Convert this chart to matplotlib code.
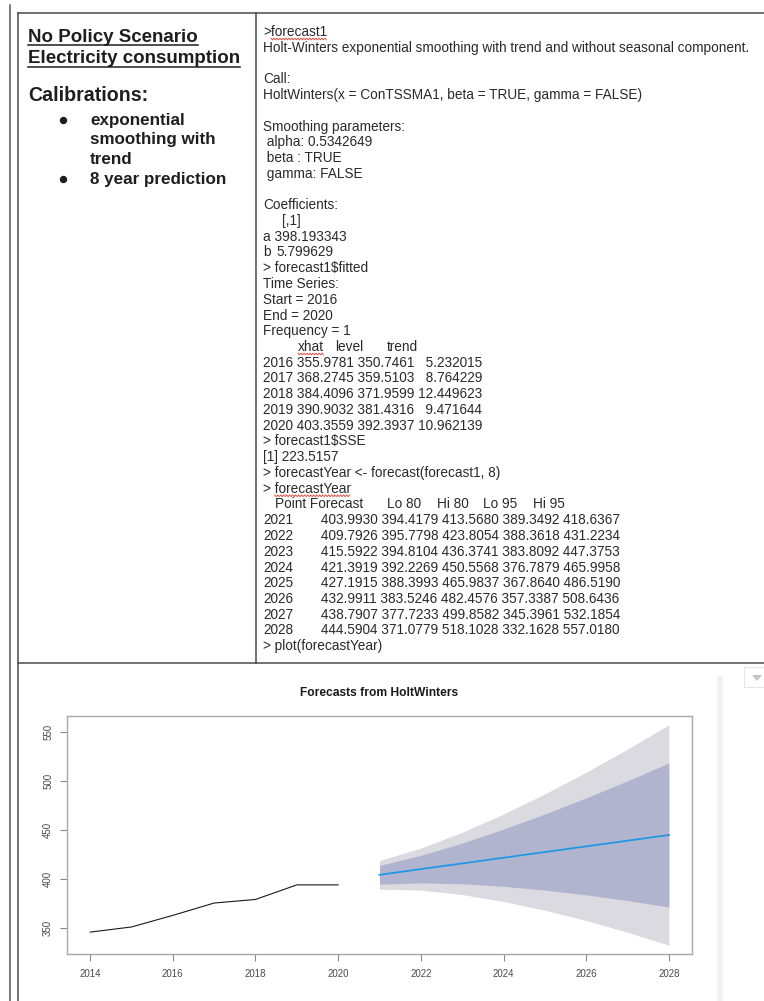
import matplotlib
matplotlib.use('Agg')
import matplotlib.pyplot as plt
from matplotlib.lines import Line2D
from matplotlib.patches import Rectangle, Polygon
import numpy as np

# ---------------- data ----------------
hist_years = [2014, 2015, 2016, 2017, 2018, 2019, 2020]
hist_values = [345.51, 350.75, 362.59, 375.17, 378.83, 393.69, 393.69]

fc_years = [2021, 2022, 2023, 2024, 2025, 2026, 2027, 2028]
point_fc = [403.9930, 409.7926, 415.5922, 421.3919, 427.1915, 432.9911, 438.7907, 444.5904]
lo80 = [394.4179, 395.7798, 394.8104, 392.2269, 388.3993, 383.5246, 377.7233, 371.0779]
hi80 = [413.5680, 423.8054, 436.3741, 450.5568, 465.9837, 482.4576, 499.8582, 518.1028]
lo95 = [389.3492, 388.3618, 383.8092, 376.7879, 367.8640, 357.3387, 345.3961, 332.1628]
hi95 = [418.6367, 431.2234, 447.3753, 465.9958, 486.5190, 508.6436, 532.1854, 557.0180]

fit_years = [2016, 2017, 2018, 2019, 2020]
fit_xhat = [355.9781, 368.2745, 384.4096, 390.9032, 403.3559]
fit_level = [350.7461, 359.5103, 371.9599, 381.4316, 392.3937]
fit_trend = [5.232015, 8.764229, 12.449623, 9.471644, 10.962139]

alpha = "0.5342649"
coef_a = "398.193343"
coef_b = "5.799629"
sse = "223.5157"

x_ticks = [2014, 2016, 2018, 2020, 2022, 2024, 2026, 2028]
y_ticks = [350, 400, 450, 500, 550]

# ---------------- figure ----------------
W, H = 764, 1001
fig = plt.figure(figsize=(W / 100, H / 100), dpi=100)
fig.patch.set_facecolor('white')
renderer = fig.canvas.get_renderer()
FONT = 'Liberation Sans'


def fx(x):
    return x / W


def fy(y):
    return 1 - y / H


def line(xs, ys, color='#4a4a4a', lw=1.1, **kw):
    fig.add_artist(Line2D([fx(v) for v in xs], [fy(v) for v in ys], color=color,
                          lw=lw, transform=fig.transFigure, **kw))


def text(x, y, s, size, **kw):
    kw.setdefault('family', FONT)
    kw.setdefault('va', 'baseline')
    return fig.text(fx(x), fy(y), s, fontsize=size, **kw)


def twidth(s, size, **kw):
    t = text(0, 0, s, size, **kw)
    w = t.get_window_extent(renderer).width
    t.remove()
    return w


def fit_size(s, width, **kw):
    return 10 * width / twidth(s, 10, **kw)


def squiggle(x0, x1, y):
    xs = np.arange(x0, x1 + 0.01, 1.5)
    ys = [y + (0.9 if i % 2 else -0.9) for i in range(len(xs))]
    line(xs, ys, color='#e03b2f', lw=0.6)


# page edge and table borders
line([10, 10], [5, H], color='#555555', lw=1.1)
line([18, W], [13, 13])
line([18, 18], [13, H])
line([256, 256], [13, 663])
line([18, W], [663, 663])

# ---------------- left cell ----------------
title_kw = dict(weight='bold', color='#1e1e1e')
ts = fit_size("Electricity consumption", 213, **title_kw)
t1 = text(28, 42, "No Policy Scenario", ts, **title_kw)
t2 = text(28, 63, "Electricity consumption", ts, **title_kw)
for t, uy in ((t1, 45), (t2, 67)):
    w = t.get_window_extent(renderer).width
    line([28, 28 + w], [uy, uy], color='#1e1e1e', lw=1.1)

bs = fit_size("8 year prediction", 136, **title_kw)
text(28, 101, "Calibrations:", fit_size("Calibrations:", 120, **title_kw), **title_kw)
text(90, 125, "exponential", bs, **title_kw)
text(90, 144, "smoothing with", bs, **title_kw)
text(90, 164, "trend", bs, **title_kw)
text(90, 184, "8 year prediction", bs, **title_kw)
for by in (120, 179):
    fig.add_artist(Line2D([fx(63)], [fy(by)], marker='o', markersize=4.3, color='#1e1e1e',
                          transform=fig.transFigure))

# ---------------- right cell (R console output) ----------------
code_kw = dict(color='#2a2a2a')
cs = fit_size("Holt-Winters exponential smoothing with trend and without seasonal component.", 487, **code_kw)


def base(k):
    return 36 + 15.75 * k


X0 = 263
simple = {
    0: ">forecast1",
    1: "Holt-Winters exponential smoothing with trend and without seasonal component.",
    3: "Call:",
    4: "HoltWinters(x = ConTSSMA1, beta = TRUE, gamma = FALSE)",
    6: "Smoothing parameters:",
    7: " alpha: " + alpha,
    8: " beta : TRUE",
    9: " gamma: FALSE",
    11: "Coefficients:",
    13: "a " + coef_a,
    15: "> forecast1$fitted",
    16: "Time Series:",
    17: "Start = %d" % fit_years[0],
    18: "End = %d" % fit_years[-1],
    19: "Frequency = 1",
    26: "> forecast1$SSE",
    27: "[1] " + sse,
    28: "> forecastYear <- forecast(forecast1, %d)" % len(fc_years),
    29: "> forecastYear",
    39: "> plot(forecastYear)",
}
for k, s in simple.items():
    text(X0, base(k), s, cs, **code_kw)

text(282, base(12), "[,1]", cs, **code_kw)
text(X0, base(14), "b", cs, **code_kw)
text(276, base(14), coef_b, cs, **code_kw)

for xx, s in ((298, "xhat"), (335, "level"), (387, "trend")):
    text(xx, base(20), s, cs, **code_kw)
for i, yr in enumerate(fit_years):
    row = "%d %.4f %.4f %s" % (yr, fit_xhat[i], fit_level[i], ("%9.6f" % fit_trend[i]).replace(' ', '  '))
    text(X0, base(21 + i), row, cs, **code_kw)

for xx, s in ((275, "Point Forecast"), (387, "Lo 80"), (437, "Hi 80"), (483, "Lo 95"), (533, "Hi 95")):
    text(xx, base(30), s, cs, **code_kw)
for i, yr in enumerate(fc_years):
    text(X0, base(31 + i), str(yr), cs, **code_kw)
    vals = " ".join("%.4f" % v for v in (point_fc[i], lo80[i], hi80[i], lo95[i], hi95[i]))
    text(321, base(31 + i), vals, cs, **code_kw)

# spell-check squiggles
w_gt = twidth(">", cs, **code_kw)
w_f1 = twidth("forecast1", cs, **code_kw)
squiggle(X0 + w_gt, X0 + w_gt + w_f1, base(0) + 3)
squiggle(298, 298 + twidth("xhat", cs, **code_kw), base(20) + 3)
w_pre = twidth("> ", cs, **code_kw)
squiggle(X0 + w_pre, X0 + w_pre + twidth("forecastYear", cs, **code_kw), base(29) + 3)

# ---------------- UI widgets ----------------
fig.add_artist(Rectangle((fx(717), fy(H)), 6 / W, (H - 676) / H, transform=fig.transFigure,
                         facecolor='#f1f2f5', edgecolor='none'))
fig.add_artist(Rectangle((fx(744), fy(687)), 22 / W, 20 / H, transform=fig.transFigure,
                         facecolor='white', edgecolor='#e6e6e6', lw=0.8))
fig.add_artist(Polygon([(fx(752), fy(675)), (fx(762), fy(675)), (fx(757), fy(681))],
                       closed=True, transform=fig.transFigure, facecolor='#c4c4c4', edgecolor='none'))

# ---------------- forecast plot ----------------
ax = fig.add_axes([fx(67), fy(954), (692 - 67) / W, (954 - 716) / H])
ax.fill_between(fc_years, lo95, hi95, color='#dadae0', lw=0)
ax.fill_between(fc_years, lo80, hi80, color='#b1b4cf', lw=0)
ax.plot(hist_years, hist_values, color='#1a1a1a', lw=0.8)
ax.plot(fc_years, point_fc, color='#2297E6', lw=1.3)

rng_x = (hist_years[0], fc_years[-1])
dx = 0.04 * (rng_x[1] - rng_x[0])
ax.set_xlim(rng_x[0] - dx, rng_x[1] + dx)
ymin, ymax = min(min(lo95), min(hist_values)), max(hi95)
dy = 0.04 * (ymax - ymin)
ax.set_ylim(ymin - dy, ymax + dy)

ax.set_xticks(x_ticks)
ax.set_yticks(y_ticks)
ax.set_xticklabels([str(v) for v in x_ticks], family=FONT, fontsize=7.0, color='#4a4a4a')
ax.set_yticklabels([str(v) for v in y_ticks], family=FONT, fontsize=7.0, color='#4a4a4a',
                   rotation=90, va='center')
ax.tick_params(axis='both', length=5, width=0.8, color='#8a8a8a')
ax.tick_params(axis='x', pad=6)
ax.tick_params(axis='y', pad=5)
for sp in ax.spines.values():
    sp.set_color('#a8a8a8')
    sp.set_linewidth(1.0)

ptitle = "Forecasts from HoltWinters"
text(379.5, 696, ptitle, fit_size(ptitle, 158, weight='bold'), weight='bold',
     color='#1a1a1a', ha='center')

fig.savefig('out.png', dpi=100, facecolor='white')
